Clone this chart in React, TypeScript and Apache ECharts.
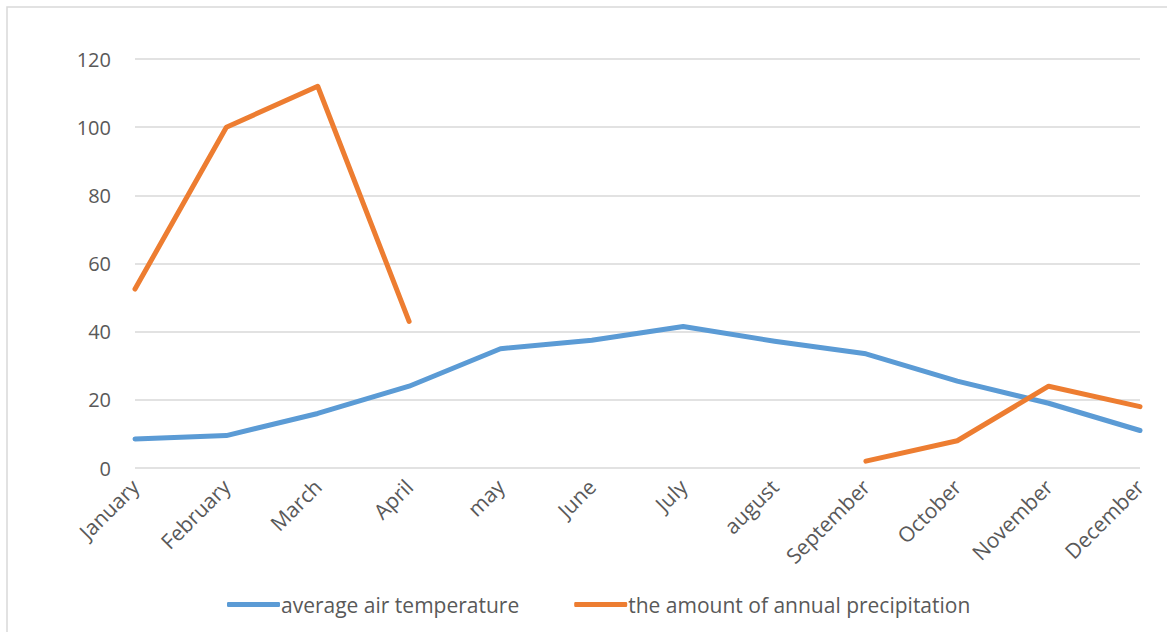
import React, { useEffect, useRef } from "react";
import * as echarts from "echarts";

const categories = ["January", "February", "March", "April", "may", "June", "July", "august", "September", "October", "November", "December"];
const temperature = [8.5, 9.5, 16, 24, 35, 37.5, 41.5, 37.2, 33.5, 25.5, 19, 11];
const precipitation: (number | null)[] = [52.5, 100, 112, 43, null, null, null, null, 2, 8, 24, 18];
const seriesNames = ["average air temperature", "the amount of annual precipitation"];

export default function App() {
  const ref = useRef<HTMLDivElement>(null);
  useEffect(() => {
    if (!ref.current) return;
    const chart = echarts.init(ref.current, null, { renderer: "svg" });
    const font = "'Open Sans', 'Liberation Sans', sans-serif";
    chart.setOption({
      animation: false,
      backgroundColor: "#ffffff",
      textStyle: { fontFamily: font },
      graphic: [
        {
          type: "rect",
          shape: { x: 7, y: 7, width: 1170, height: 640 },
          style: { fill: "none", stroke: "#d9d9d9", lineWidth: 1.5 },
          silent: true,
        },
      ],
      grid: { left: 135, right: 27, top: 59, bottom: 164, containLabel: false },
      legend: {
        left: 222,
        top: 589,
        itemWidth: 53,
        itemHeight: 5,
        itemGap: 55,
        icon: "roundRect",
        textStyle: { fontSize: 21, color: "#595959", fontFamily: font, padding: [0, 0, 0, -4] },
        data: seriesNames,
      },
      xAxis: {
        type: "category",
        data: categories,
        boundaryGap: false,
        axisLine: { show: false },
        axisTick: { show: false },
        axisLabel: { rotate: 45, fontSize: 21, color: "#595959", margin: 15, interval: 0, fontFamily: font },
      },
      yAxis: {
        type: "value",
        min: 0,
        max: 120,
        interval: 20,
        axisLine: { show: false },
        axisTick: { show: false },
        axisLabel: { fontSize: 20, color: "#595959", margin: 24, fontFamily: font },
        splitLine: { lineStyle: { color: "#d9d9d9", width: 1.5 } },
      },
      series: [
        {
          name: seriesNames[0],
          type: "line",
          data: temperature,
          showSymbol: false,
          symbol: "none",
          lineStyle: { color: "#5b9bd5", width: 5, cap: "round", join: "round" },
          itemStyle: { color: "#5b9bd5" },
        },
        {
          name: seriesNames[1],
          type: "line",
          data: precipitation,
          connectNulls: false,
          showSymbol: false,
          symbol: "none",
          lineStyle: { color: "#ed7d31", width: 5, cap: "round", join: "round" },
          itemStyle: { color: "#ed7d31" },
        },
      ],
    });
    return () => chart.dispose();
  }, []);
  return <div ref={ref} style={{ position: "fixed", left: 0, top: 0, width: 1167, height: 632 }} />;
}
